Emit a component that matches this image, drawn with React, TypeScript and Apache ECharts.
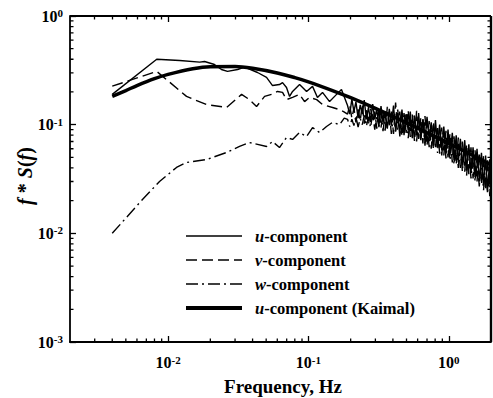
import React, { useEffect, useRef } from "react";
import * as echarts from "echarts";

// Axis ranges (Hz and f*S(f))
const X_MIN = 0.002;
const X_MAX = 2;
const Y_MIN = 0.001;
const Y_MAX = 1;

const xMajorTicks = [0.01, 0.1, 1];
const xMinorTicks = [
  0.003, 0.004, 0.005, 0.006, 0.007, 0.008, 0.009,
  0.02, 0.03, 0.04, 0.05, 0.06, 0.07, 0.08, 0.09,
  0.2, 0.3, 0.4, 0.5, 0.6, 0.7, 0.8, 0.9,
];
const yMajorTicks = [0.001, 0.01, 0.1, 1];
const yMinorTicks = [
  0.002, 0.003, 0.004, 0.005, 0.006, 0.007, 0.008, 0.009,
  0.02, 0.03, 0.04, 0.05, 0.06, 0.07, 0.08, 0.09,
  0.2, 0.3, 0.4, 0.5, 0.6, 0.7, 0.8, 0.9,
];

// Low/mid-frequency parts
const uFreqLow = [0.004, 0.0083, 0.0121, 0.0168, 0.0182, 0.0214, 0.024, 0.0265, 0.0313, 0.0351, 0.0434, 0.0503, 0.0555, 0.0622, 0.0654, 0.0698, 0.0734, 0.0771, 0.0865, 0.097, 0.107, 0.116, 0.126, 0.1415, 0.1587, 0.172];
const uSpecLow = [0.19, 0.40, 0.39, 0.376, 0.381, 0.358, 0.322, 0.309, 0.322, 0.338, 0.302, 0.272, 0.229, 0.234, 0.244, 0.220, 0.182, 0.202, 0.234, 0.202, 0.225, 0.178, 0.198, 0.163, 0.19, 0.211];

const vFreqLow = [0.004, 0.0083, 0.00975, 0.01353, 0.0188, 0.0261, 0.0334, 0.038, 0.0427, 0.0487, 0.0546, 0.0603, 0.0654, 0.0698, 0.0771, 0.0865, 0.0939, 0.102, 0.1145, 0.126, 0.1486, 0.165, 0.178];
const vSpecLow = [0.226, 0.309, 0.26, 0.182, 0.153, 0.144, 0.19, 0.17, 0.147, 0.182, 0.19, 0.202, 0.198, 0.17, 0.178, 0.19, 0.163, 0.178, 0.17, 0.153, 0.144, 0.138, 0.132];

const wFreqLow = [0.004, 0.00657, 0.00869, 0.01148, 0.01353, 0.0188, 0.0261, 0.0323, 0.038, 0.0503, 0.0555, 0.0622, 0.0698, 0.0771, 0.0865, 0.097, 0.107, 0.12, 0.1346, 0.1486, 0.1667, 0.18];
const wSpecLow = [0.01, 0.0205, 0.030, 0.0404, 0.0449, 0.0478, 0.0555, 0.063, 0.0685, 0.063, 0.070, 0.0616, 0.0762, 0.0731, 0.0847, 0.0778, 0.094, 0.0847, 0.0962, 0.105, 0.10, 0.115];

// High-frequency (noisy) part, shared frequency bins
const freqHigh = [
  0.19, 0.197, 0.204, 0.211, 0.218, 0.226, 0.234, 0.242, 0.25, 0.259,
  0.268, 0.277, 0.287, 0.297, 0.307, 0.318, 0.329, 0.34, 0.352, 0.365,
  0.377, 0.39, 0.404, 0.418, 0.433, 0.448, 0.464, 0.48, 0.497, 0.514,
  0.532, 0.55, 0.57, 0.59, 0.61, 0.632, 0.654, 0.677, 0.7, 0.725,
  0.75, 0.777, 0.804, 0.832, 0.861, 0.891, 0.922, 0.955, 0.988, 1.02,
  1.06, 1.09, 1.13, 1.17, 1.21, 1.25, 1.3, 1.34, 1.39, 1.44,
  1.49, 1.54, 1.59, 1.65, 1.71, 1.77, 1.83, 1.89, 1.96, 2.0,
];
const uSpecHigh = [
  0.150, 0.125, 0.172, 0.132, 0.162, 0.115, 0.152, 0.125, 0.168, 0.112,
  0.145, 0.106, 0.155, 0.112, 0.138, 0.098, 0.148, 0.105, 0.132, 0.092,
  0.140, 0.098, 0.150, 0.088, 0.128, 0.085, 0.138, 0.080, 0.125, 0.088,
  0.132, 0.075, 0.120, 0.082, 0.128, 0.072, 0.112, 0.070, 0.118, 0.074,
  0.105, 0.064, 0.110, 0.062, 0.100, 0.058, 0.096, 0.054, 0.090, 0.052,
  0.084, 0.047, 0.080, 0.045, 0.074, 0.042, 0.072, 0.038, 0.066, 0.036,
  0.062, 0.033, 0.060, 0.030, 0.055, 0.028, 0.052, 0.025, 0.048, 0.022,
];
const vSpecHigh = [
  0.125, 0.150, 0.115, 0.142, 0.105, 0.138, 0.108, 0.155, 0.102, 0.136,
  0.100, 0.142, 0.106, 0.132, 0.092, 0.140, 0.094, 0.130, 0.088, 0.146,
  0.095, 0.135, 0.082, 0.160, 0.090, 0.132, 0.078, 0.128, 0.084, 0.136,
  0.077, 0.124, 0.070, 0.134, 0.074, 0.116, 0.067, 0.120, 0.064, 0.108,
  0.060, 0.106, 0.062, 0.098, 0.054, 0.094, 0.052, 0.088, 0.050, 0.083,
  0.045, 0.078, 0.043, 0.076, 0.040, 0.070, 0.037, 0.066, 0.035, 0.062,
  0.032, 0.058, 0.030, 0.056, 0.028, 0.052, 0.025, 0.049, 0.022, 0.043,
];
const wSpecHigh = [
  0.112, 0.096, 0.112, 0.098, 0.118, 0.095, 0.114, 0.100, 0.122, 0.097,
  0.118, 0.094, 0.126, 0.090, 0.122, 0.095, 0.134, 0.087, 0.125, 0.092,
  0.132, 0.082, 0.124, 0.086, 0.138, 0.078, 0.118, 0.083, 0.128, 0.075,
  0.115, 0.077, 0.124, 0.070, 0.108, 0.072, 0.116, 0.064, 0.106, 0.062,
  0.100, 0.060, 0.096, 0.055, 0.093, 0.052, 0.086, 0.049, 0.080, 0.047,
  0.075, 0.043, 0.071, 0.040, 0.067, 0.037, 0.063, 0.034, 0.058, 0.032,
  0.054, 0.030, 0.051, 0.027, 0.048, 0.025, 0.044, 0.023, 0.040, 0.021,
];

// Kaimal model curve (u-component)
const kaimalFreq = [0.004, 0.005, 0.006, 0.008, 0.01, 0.015, 0.02, 0.03, 0.04, 0.06, 0.08, 0.1, 0.15, 0.2, 0.3, 0.5, 0.7, 1, 1.5, 2];
const kaimalSpec = [0.182, 0.206, 0.229, 0.265, 0.290, 0.327, 0.342, 0.343, 0.330, 0.299, 0.271, 0.248, 0.205, 0.177, 0.141, 0.104, 0.0842, 0.0673, 0.0517, 0.0428];

const legendLabels = ["{i|u}-component", "{i|v}-component", "{i|w}-component", "{i|u}-component (Kaimal)"];

const FONT = "'Liberation Serif', 'Times New Roman', serif";
const lg = (v: number) => Math.log10(v);

function toPairs(f: number[], s: number[]) {
  return f.map((x, i) => [lg(x), lg(s[i])]);
}

export default function App() {
  const ref = useRef<HTMLDivElement>(null);

  useEffect(() => {
    document.body.style.margin = "0";
    if (!ref.current) return;
    const chart = echarts.init(ref.current, undefined, { renderer: "svg" });

    const supRich = {
      b: { fontFamily: FONT, fontWeight: "bold", fontSize: 16, color: "#000", lineHeight: 17 },
      s: { fontFamily: FONT, fontWeight: "bold", fontSize: 11, color: "#000", lineHeight: 11, verticalAlign: "top" },
    };
    const powLabel = (v: number) => {
      const r = Math.round(v);
      return Math.abs(v - r) < 1e-6 ? `{b|10}{s|${r}}` : "";
    };

    const xLo = lg(X_MIN), xHi = lg(X_MAX), yLo = lg(Y_MIN), yHi = lg(Y_MAX);
    const thin = 1.4;

    // tick lengths in axis (log10) units: about 6 px major, 3.5 px minor
    const xMajLen = 0.043, xMinLen = 0.025;
    const yMajLen = 0.055, yMinLen = 0.032;

    // top side: markLine segments (frame line + ticks)
    const topLines: any[] = [
      [{ coord: [xLo, yHi], lineStyle: { width: 1.8 } }, { coord: [xHi, yHi] }],
    ];
    xMajorTicks.forEach((v) => topLines.push([{ coord: [lg(v), yHi] }, { coord: [lg(v), yHi - yMajLen] }]));
    xMinorTicks.forEach((v) => topLines.push([{ coord: [lg(v), yHi] }, { coord: [lg(v), yHi - yMinLen] }]));

    // right side + left/bottom minor ticks: small line series
    const decoSeries: any[] = [];
    const addSeg = (pts: number[][], w: number) =>
      decoSeries.push({
        type: "line",
        name: "deco" + decoSeries.length,
        data: pts,
        symbol: "none",
        lineStyle: { color: "#000", width: w, type: "solid" },
      });
    addSeg([[xHi, yLo], [xHi, yHi]], 2.4);
    yMajorTicks.forEach((v) => addSeg([[xHi, lg(v)], [xHi - xMajLen, lg(v)]], 1.3));
    yMinorTicks.forEach((v) => {
      addSeg([[xHi, lg(v)], [xHi - xMinLen, lg(v)]], 1.3);
      addSeg([[xLo, lg(v)], [xLo + xMinLen, lg(v)]], 1.3);
    });
    xMinorTicks.forEach((v) => addSeg([[lg(v), yLo], [lg(v), yLo + yMinLen]], 1.3));

    const legendY = [236, 260, 284, 308];
    const legendStyles = [
      { lineWidth: 1.4, lineDash: null as any },
      { lineWidth: 1.4, lineDash: [11, 5] },
      { lineWidth: 1.4, lineDash: [12, 4, 2, 4] },
      { lineWidth: 4, lineDash: null as any },
    ];
    const graphics: any[] = [];
    legendY.forEach((y, i) => {
      graphics.push({
        type: "line",
        shape: { x1: 186, y1: y, x2: 242, y2: y },
        style: { stroke: "#000", lineWidth: legendStyles[i].lineWidth, lineDash: legendStyles[i].lineDash },
      });
      graphics.push({
        type: "text",
        x: 255,
        y,
        style: {
          text: legendLabels[i],
          fill: "#000",
          fontFamily: FONT,
          fontWeight: "bold",
          fontSize: 16.5,
          verticalAlign: "middle",
          align: "left",
          rich: {
            i: { fontFamily: FONT, fontWeight: "bold", fontStyle: "italic", fontSize: 16.5, fill: "#000" },
          },
        },
      });
    });
    graphics.push({
      type: "text",
      x: 283,
      y: 386,
      style: {
        text: "Frequency, Hz",
        fill: "#000",
        fontFamily: FONT,
        fontWeight: "bold",
        fontSize: 19,
        align: "center",
        verticalAlign: "middle",
      },
    });
    graphics.push({
      type: "text",
      x: 25,
      y: 176,
      rotation: Math.PI / 2,
      style: {
        text: "{i|f} * {i|S}({i|f})",
        fill: "#000",
        fontFamily: FONT,
        fontWeight: "bold",
        fontSize: 20,
        align: "center",
        verticalAlign: "middle",
        rich: {
          i: { fontFamily: FONT, fontWeight: "bold", fontStyle: "italic", fontSize: 20, fill: "#000" },
        },
      },
    });

    chart.setOption({
      animation: false,
      grid: { left: 70, right: 2, top: 16, bottom: 56 },
      xAxis: {
        type: "value",
        min: xLo,
        max: xHi,
        splitNumber: 3,
        splitLine: { show: false },
        axisLine: { show: true, onZero: false, lineStyle: { color: "#000", width: 1.8 } },
        axisTick: { show: true, inside: true, length: 6, lineStyle: { color: "#000", width: 1.3 } },
        axisLabel: { show: true, formatter: powLabel, rich: supRich, margin: 12, showMinLabel: false, showMaxLabel: false },
      },
      yAxis: {
        type: "value",
        min: yLo,
        max: yHi,
        interval: 1,
        splitLine: { show: false },
        axisLine: { show: true, onZero: false, lineStyle: { color: "#000", width: 1.8 } },
        axisTick: { show: true, inside: true, length: 6, lineStyle: { color: "#000", width: 1.3 } },
        axisLabel: { show: true, formatter: powLabel, rich: supRich, margin: 7 },
      },
      series: [
        {
          type: "line",
          name: "u",
          symbol: "none",
          data: toPairs(uFreqLow.concat(freqHigh), uSpecLow.concat(uSpecHigh)),
          lineStyle: { color: "#000", width: thin, type: "solid" },
        },
        {
          type: "line",
          name: "v",
          symbol: "none",
          data: toPairs(vFreqLow.concat(freqHigh), vSpecLow.concat(vSpecHigh)),
          lineStyle: { color: "#000", width: thin, type: [11, 5] },
        },
        {
          type: "line",
          name: "w",
          symbol: "none",
          data: toPairs(wFreqLow.concat(freqHigh), wSpecLow.concat(wSpecHigh)),
          lineStyle: { color: "#000", width: thin, type: [12, 4, 2, 4] },
        },
        {
          type: "line",
          name: "Kaimal",
          symbol: "none",
          smooth: 0.3,
          data: toPairs(kaimalFreq, kaimalSpec),
          lineStyle: { color: "#000", width: 3.5, type: "solid" },
          markLine: {
            silent: true,
            symbol: ["none", "none"],
            label: { show: false },
            lineStyle: { color: "#000", width: 1.3, type: "solid" },
            data: topLines,
          },
        },
        ...decoSeries,
      ],
      graphic: graphics,
    });

    return () => chart.dispose();
  }, []);

  return <div ref={ref} style={{ width: 493, height: 398, position: "absolute", left: 0, top: 0 }} />;
}
